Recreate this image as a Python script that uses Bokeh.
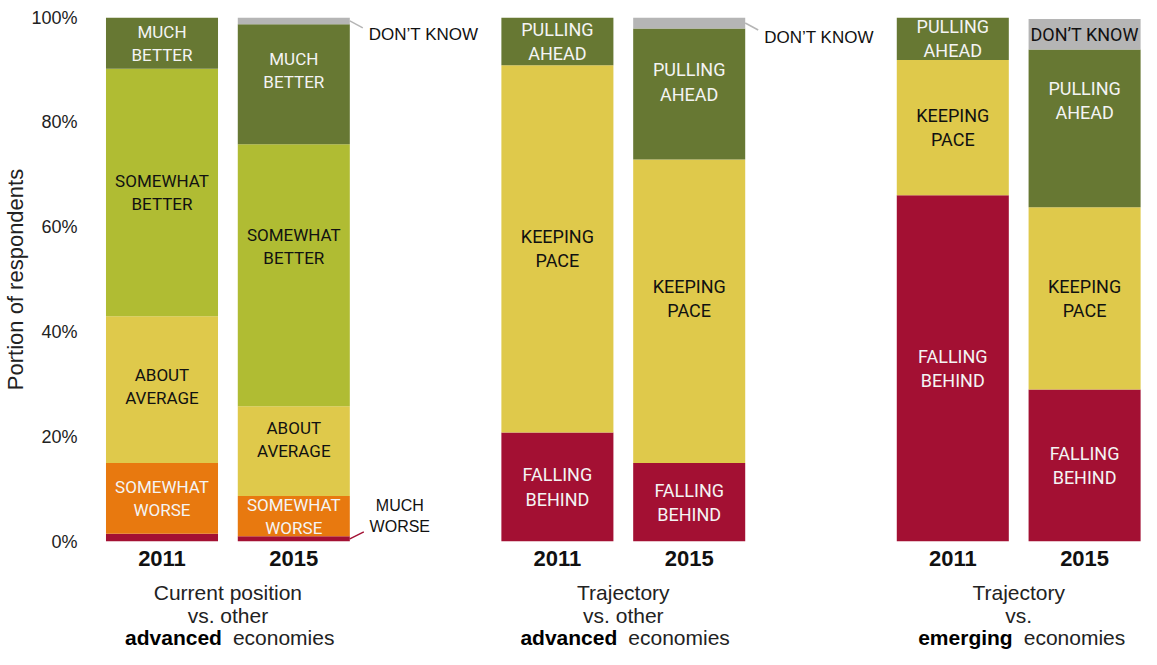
from bokeh.plotting import figure
from bokeh.layouts import column
from bokeh.models import Range1d, FixedTicker, PrintfTickFormatter, ColumnDataSource
from bokeh.core.properties import value
from bokeh.embed import file_html
from bokeh.resources import INLINE

# ---------------- data ----------------
years = ["2011", "2015"]

group_line1 = ["Current position", "Trajectory", "Trajectory"]
group_line2 = ["vs. other", "vs. other", "vs."]
group_bold = ["advanced", "advanced", "emerging"]
group_tail = ["economies", "economies", "economies"]

position_cats = ["MUCH WORSE", "SOMEWHAT WORSE", "ABOUT AVERAGE",
                 "SOMEWHAT BETTER", "MUCH BETTER", "DON\u2019T KNOW"]
position_2011 = [1.5, 13.5, 28.0, 47.2, 9.8, 0.0]
position_2015 = [1.0, 7.7, 17.1, 50.0, 22.9, 1.3]

trajectory_cats = ["FALLING BEHIND", "KEEPING PACE", "PULLING AHEAD", "DON\u2019T KNOW"]
advanced_2011 = [20.8, 70.1, 9.1, 0.0]
advanced_2015 = [15.0, 57.9, 25.0, 2.1]
emerging_2011 = [66.1, 25.8, 8.1, 0.0]
emerging_2015 = [29.0, 34.8, 30.1, 5.8]

y_ticks = [0, 20, 40, 60, 80, 100]

# ---------------- style ----------------
COL = {
    "MUCH WORSE": "#A31033", "SOMEWHAT WORSE": "#E8790F", "ABOUT AVERAGE": "#DFC94B",
    "SOMEWHAT BETTER": "#B0BC33", "MUCH BETTER": "#677833", "DON\u2019T KNOW": "#B5B5B5",
    "FALLING BEHIND": "#A31033", "KEEPING PACE": "#DFC94B", "PULLING AHEAD": "#677833",
}
WHITE_TEXT = {"MUCH WORSE", "SOMEWHAT WORSE", "MUCH BETTER", "FALLING BEHIND", "PULLING AHEAD"}
# manual upward nudges of in-bar labels (pixels): (group, year index, category)
NUDGE = {
    (0, 1, "ABOUT AVERAGE"): 12, (0, 1, "SOMEWHAT BETTER"): 29, (0, 1, "MUCH BETTER"): 14,
    (0, 0, "ABOUT AVERAGE"): 3,
    (1, 1, "KEEPING PACE"): 13, (1, 1, "PULLING AHEAD"): 12,
    (2, 1, "PULLING AHEAD"): 28,
}
BAR_FONT_SIZE = ["17px", "18px", "18px"]

W, H = 1141, 649
ML, MT, MB = 104, 17, 38
FRAME_H = 524
H_MAIN = MT + FRAME_H + MB
H_CAP = H - H_MAIN
UNIT_PX = 131.8
FIRST_CENTER = 161.5
BAR_W = 0.85
x_start = -(FIRST_CENTER - ML) / UNIT_PX
x_end = x_start + (W - ML) / UNIT_PX
ux = 1.0 / UNIT_PX
uy = 100.0 / FRAME_H

BAR_FONT = value("Roboto")
REG = "Liberation Sans"

xr = Range1d(x_start, x_end)
p = figure(width=W, height=H_MAIN, output_backend="svg", toolbar_location=None,
           x_range=xr, y_range=Range1d(0, 100),
           min_border_left=ML, min_border_top=MT, min_border_bottom=MB, min_border_right=0)
p.outline_line_color = None
p.grid.visible = False

panels = [
    (position_cats, [position_2011, position_2015]),
    (trajectory_cats, [advanced_2011, advanced_2015]),
    (trajectory_cats, [emerging_2011, emerging_2015]),
]

bx, bb, bt, bc = [], [], [], []
slots = []
slot_labels = {}
for gi, (cats, series) in enumerate(panels):
    tx, ty, tt, tc = [], [], [], []
    for yi, vals in enumerate(series):
        slot = gi * 3 + yi
        slots.append(slot)
        slot_labels[slot] = years[yi]
        bottom = 0.0
        for cat, v in zip(cats, vals):
            if v > 0:
                bx.append(slot); bb.append(bottom); bt.append(bottom + v); bc.append(COL[cat])
                if v >= 5:
                    txt = cat if cat.startswith("DON") else cat.replace(" ", "\n", 1)
                    tx.append(slot)
                    ty.append(bottom + v / 2 + NUDGE.get((gi, yi, cat), 0) * uy)
                    tt.append(txt)
                    tc.append("#F4F4F4" if cat in WHITE_TEXT else "#111111")
            bottom += v
    p.text(x="x", y="y", text="t", text_color="c", text_align="center", text_baseline="middle",
           text_font=BAR_FONT, text_font_size=BAR_FONT_SIZE[gi], text_line_height=1.15,
           source=ColumnDataSource(dict(x=tx, y=ty, t=tt, c=tc)), level="overlay")

p.vbar(x="x", bottom="b", top="t", width=BAR_W, fill_color="c", line_color=None,
       source=ColumnDataSource(dict(x=bx, b=bb, t=bt, c=bc)))

# ---- call-outs ----
for gi, vals in [(0, position_2015), (1, advanced_2015)]:
    slot = gi * 3 + 1
    edge = slot + BAR_W / 2
    dk_mid = sum(vals[:-1]) + vals[-1] / 2
    p.segment(x0=[edge], y0=[dk_mid], x1=[edge + 13 * ux], y1=[dk_mid - 7 * uy],
              line_color="#B5B5B5", line_width=1.5)
    p.text(x=[edge + 19 * ux], y=[dk_mid - 14 * uy], text=["DON\u2019T KNOW"],
           text_align="left", text_baseline="middle", text_color="#111111",
           text_font=value(REG), text_font_size="17px")

slot = 1
edge = slot + BAR_W / 2
mw_mid = position_2015[0] / 2
p.segment(x0=[edge], y0=[mw_mid], x1=[edge + 14 * ux], y1=[mw_mid + 7 * uy],
          line_color="#A31033", line_width=1.5)
p.text(x=[edge + 50 * ux], y=[mw_mid + 23 * uy], text=["MUCH\nWORSE"],
       text_align="center", text_baseline="middle", text_color="#111111",
       text_font=value(REG), text_font_size="16px", text_line_height=1.25)

# ---- axes ----
yax = p.yaxis[0]
yax.ticker = FixedTicker(ticks=y_ticks)
yax.formatter = PrintfTickFormatter(format="%d%%")
yax.axis_line_color = None
yax.major_tick_line_color = None
yax.minor_tick_line_color = None
yax.major_tick_out = 0
yax.major_tick_in = 0
yax.major_label_standoff = 27
yax.major_label_text_font = REG
yax.major_label_text_font_size = "18px"
yax.major_label_text_color = "#222222"
yax.axis_label = "Portion of respondents"
yax.axis_label_text_font = REG
yax.axis_label_text_font_size = "22px"
yax.axis_label_text_font_style = "normal"
yax.axis_label_text_color = "#222222"
yax.axis_label_standoff = 0

xax = p.xaxis[0]
xax.ticker = FixedTicker(ticks=slots)
xax.major_label_overrides = slot_labels
xax.axis_line_color = None
xax.major_tick_line_color = None
xax.minor_tick_line_color = None
xax.major_tick_out = 0
xax.major_tick_in = 0
xax.major_label_standoff = 9
xax.major_label_text_font = REG
xax.major_label_text_font_size = "22px"
xax.major_label_text_font_style = "bold"
xax.major_label_text_color = "#111111"

# ---- caption strip below (same x scale) ----
cap = figure(width=W, height=H_CAP, output_backend="svg", toolbar_location=None,
             x_range=xr, y_range=Range1d(0, H_CAP), x_axis_type=None, y_axis_type=None,
             min_border_left=ML, min_border_right=0, min_border_top=0, min_border_bottom=0)
cap.outline_line_color = None
cap.grid.visible = False

centers = [gi * 3 + 0.5 for gi in range(3)]
line_y = [H_CAP - 13, H_CAP - 36, H_CAP - 58]   # pixels from the strip's top
common = dict(text_font=value(REG), text_font_size="21px", text_baseline="middle")
cap.text(x=centers, y=[line_y[0]] * 3, text=group_line1, text_align="center",
         text_color="#222222", **common)
cap.text(x=centers, y=[line_y[1]] * 3, text=group_line2, text_align="center",
         text_color="#222222", **common)
cap.text(x=centers, y=[line_y[2]] * 3, text=group_bold, text_align="right", x_offset=-6,
         text_color="#000000", text_font_style="bold", **common)
cap.text(x=centers, y=[line_y[2]] * 3, text=group_tail, text_align="left", x_offset=5,
         text_color="#222222", **common)

layout = column(p, cap, spacing=0)
open("out.html", "w").write(file_html(layout, INLINE))
